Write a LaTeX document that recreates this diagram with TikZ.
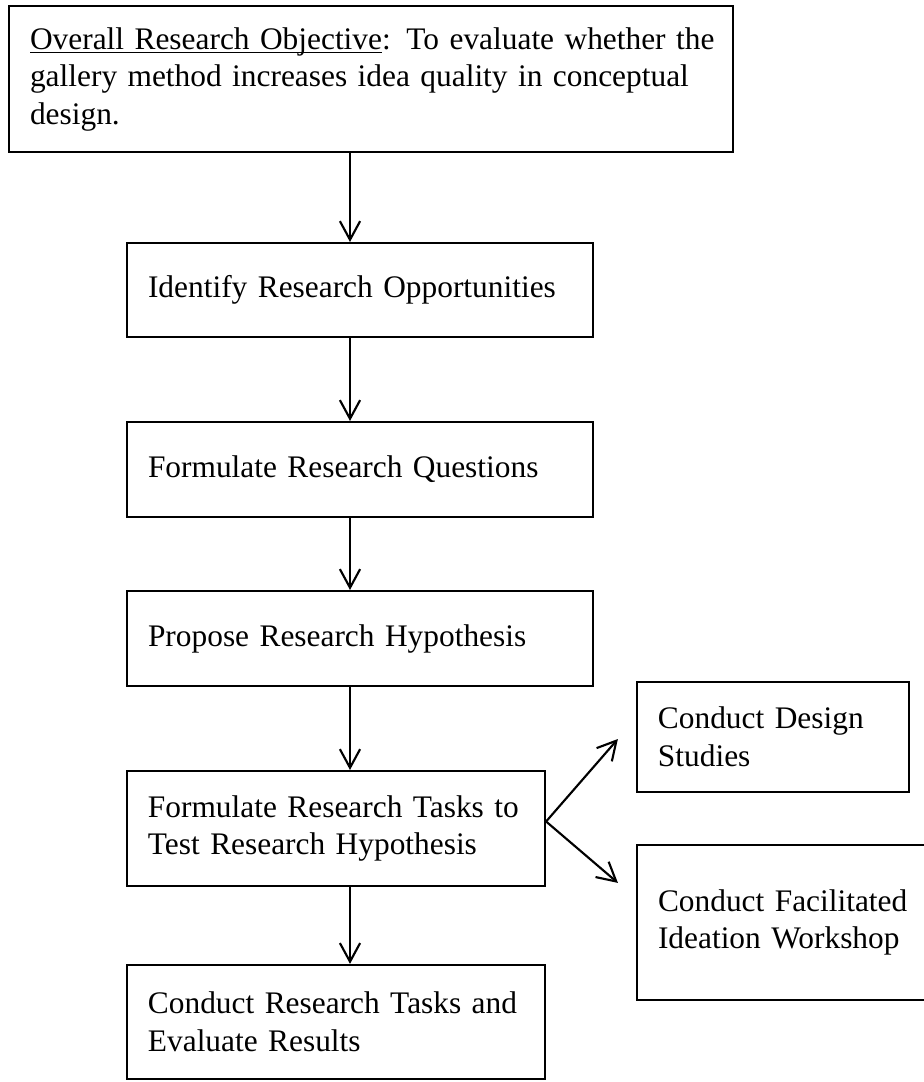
\documentclass[tikz,border=0pt]{standalone}
\usepackage{fontspec}
\setmainfont{Liberation Serif}
\usepackage{tikz}
\usetikzlibrary{positioning,calc,arrows.meta}

\tikzset{
  stage/.style={draw, line width=0.8pt, align=left, inner xsep=7.9pt, inner ysep=0pt,
    font=\fontsize{11.8}{14.1}\selectfont},
  flow/.style={-{Straight Barb[length=7pt,width=7.6pt]}, line width=0.8pt},
}

\begin{document}
\begin{tikzpicture}[x=0.376pt, y=-0.376pt]
    \useasboundingbox (0,0) rectangle (923,1082);

    % objective
    \node [stage, text width=256.4pt, minimum height=54.9pt] (obj) at (371,79)
        {\mbox{\underline{\smash{Overall Research Objective}}: To evaluate whether the}\\
         gallery method increases idea quality in conceptual\\
         design.};

    % main steps
    \node [stage, text width=159.4pt, minimum height=35.3pt] (ident) at (360,290) {Identify Research Opportunities};
    \node [stage, text width=159.4pt, minimum height=35.7pt] (quest) at (360,469.5) {Formulate Research Questions};
    \node [stage, text width=159.4pt, minimum height=35.7pt] (hypo) at (360,638.5) {Propose Research Hypothesis};
    \node [stage, text width=141.4pt, minimum height=43.2pt] (tasks) at (336,828.5) {Formulate Research Tasks to\\ Test Research Hypothesis};
    \node [stage, text width=141.4pt, minimum height=42.9pt] (eval) at (336,1022) {Conduct Research Tasks and\\ Evaluate Results};

    % side tasks
    \node [stage, text width=86.5pt, minimum height=41.4pt] (design) at (773,737) {Conduct Design\\ Studies};
    \node [stage, text width=97pt, minimum height=58.3pt] (facil) at (787,922.5) {Conduct Facilitated\\ Ideation Workshop};

    \coordinate (spine) at (350,0);
    \draw [flow] (obj.south -| spine) -- (ident.north -| spine);
    \draw [flow] (ident.south -| spine) -- (quest.north -| spine);
    \draw [flow] (quest.south -| spine) -- (hypo.north -| spine);
    \draw [flow] (hypo.south -| spine) -- (tasks.north -| spine);
    \draw [flow] (tasks.south -| spine) -- (eval.north -| spine);

    \draw [flow] ($(tasks.east)+(0,-7)$) -- ($(design.west)+(-18,2)$);
    \draw [flow] ($(tasks.east)+(0,-7)$) -- ($(facil.north west)+(-18,39)$);
\end{tikzpicture}
\end{document}
